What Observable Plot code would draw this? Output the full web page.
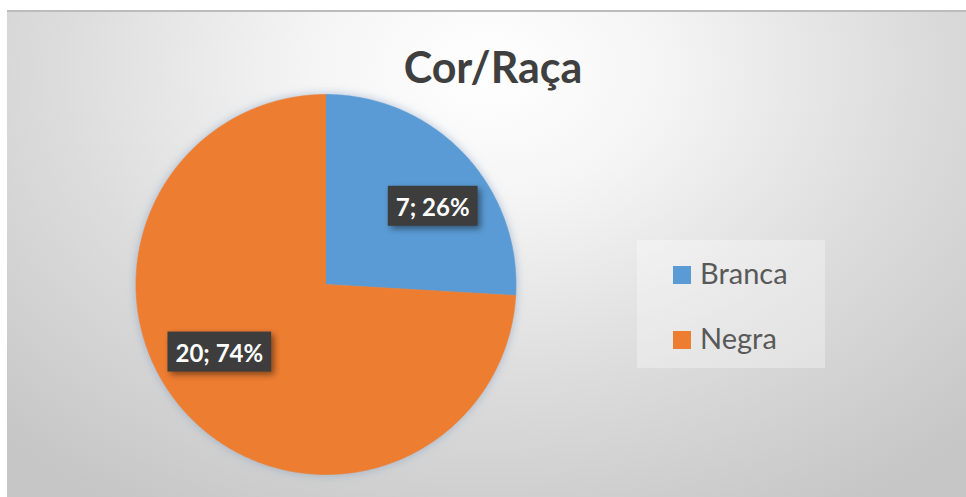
<!DOCTYPE html>
<html>
<head>
<meta charset="utf-8">
<script src="https://cdn.jsdelivr.net/npm/d3@7"></script>
<script src="https://cdn.jsdelivr.net/npm/@observablehq/plot@0.6"></script>
<style>
  html, body { margin: 0; padding: 0; background: #ffffff; overflow: hidden; }
  #chart {
    position: absolute; left: 7px; top: 10px; width: 959px; height: 487px; overflow: hidden;
    background: radial-gradient(ellipse 72% 105% at 50% 12%, #ffffff 0%, #f5f5f5 25%, #dcdcdc 62%, #c6c6c6 100%);
    border-top: 2px solid #bcbcbc;
    box-sizing: border-box;
  }
  #title {
    position: absolute; left: 0; width: 972px; top: 30px; text-align: center;
    font-family: Lato, sans-serif; font-weight: bold; font-size: 43px; line-height: 50px; color: #3f3f3f;
  }
  #legend {
    position: absolute; left: 630px; top: 228px; width: 188px; height: 128px;
    background: rgba(255,255,255,0.32);
  }
  .item { position: absolute; left: 36px; height: 30px; font-family: Lato, sans-serif; font-size: 29px; color: #595959; }
  .sw { position: absolute; left: 0; top: 4px; width: 18px; height: 18px; }
  .lb { position: absolute; left: 27px; top: -4px; line-height: 30px; white-space: nowrap; }
  #pie { position: absolute; left: 0; top: 0; }
</style>
</head>
<body>
<div id="chart">
  <div id="pie"></div>
  <div id="title"></div>
  <div id="legend"></div>
</div>
<script>
// ---- data ----
const title = "Cor/Raça";
const categories = ["Branca", "Negra"];
const counts = [7, 20];
const percents = [26, 74];
const colors = ["#5B9BD5", "#ED7D31"];

// ---- geometry from data ----
const arcs = d3.pie().sort(null).value(d => d)(counts);
const wedgeRows = [];
arcs.forEach((a, i) => {
  wedgeRows.push({cat: categories[i], x: 0, y: 0});
  const n = Math.max(2, Math.ceil((a.endAngle - a.startAngle) / 0.01));
  for (let k = 0; k <= n; k++) {
    const t = a.startAngle + (a.endAngle - a.startAngle) * k / n;
    wedgeRows.push({cat: categories[i], x: Math.sin(t), y: Math.cos(t)});
  }
});
const labelOffset = 9 * Math.PI / 180, labelR = 0.68;
const labelRows = arcs.map((a, i) => {
  const m = (a.startAngle + a.endAngle) / 2 + labelOffset;
  return {cat: categories[i], x: labelR * Math.sin(m), y: labelR * Math.cos(m),
          text: `${counts[i]}; ${percents[i]}%`};
});

const cx = 318.5, cy = 272, r = 190;
const plot = Plot.plot({
  width: 959, height: 487,
  margin: 0,
  style: {background: "transparent", overflow: "visible"},
  x: {domain: [-1, 1], range: [cx - r, cx + r], axis: null},
  y: {domain: [-1, 1], range: [cy + r, cy - r], axis: null},
  color: {domain: categories, range: colors},
  marks: [
    Plot.line(wedgeRows, {x: "x", y: "y", z: "cat", fill: "cat", stroke: "cat", strokeWidth: 0.6,
      curve: "linear"}),
    Plot.text(labelRows, {x: "x", y: "y", text: "text", fill: "white", fontWeight: "bold",
      fontSize: 24, fontFamily: "Lato, sans-serif", dy: -3, className: "plabel"})
  ]
});
document.getElementById("pie").appendChild(plot);

// pie soft glow
plot.querySelectorAll("path").forEach(p => {
  if (p.getAttribute("fill") && p.getAttribute("fill") !== "none") {
    p.parentNode.style.filter = "drop-shadow(0 0 5px rgba(120,150,190,0.55))";
  }
});

// dark boxes behind labels
const lg = plot.querySelector("g.plabel") || Array.from(plot.querySelectorAll("g")).find(g => g.querySelector("text"));
if (lg) {
  lg.querySelectorAll("text").forEach(t => {
    const b = t.getBBox();
    const tr = t.getAttribute("transform");
    const rect = document.createElementNS("http://www.w3.org/2000/svg", "rect");
    const padX = 8, h = 40;
    rect.setAttribute("x", b.x - padX);
    rect.setAttribute("width", b.width + 2 * padX);
    rect.setAttribute("y", b.y + b.height / 2 - h / 2 - 1);
    rect.setAttribute("height", h);
    rect.setAttribute("fill", "#3d3d3d");
    rect.style.filter = "drop-shadow(3px 3px 3px rgba(0,0,0,0.45))";
    if (tr) rect.setAttribute("transform", tr);
    t.parentNode.insertBefore(rect, t);
  });
}

// title
document.getElementById("title").textContent = title;

// legend
const color = plot.scale("color");
const legend = document.getElementById("legend");
categories.forEach((c, i) => {
  const it = document.createElement("div");
  it.className = "item";
  it.style.top = (22 + i * 65) + "px";
  const sw = document.createElement("div");
  sw.className = "sw";
  sw.style.background = color.apply(c);
  const lb = document.createElement("div");
  lb.className = "lb";
  lb.textContent = c;
  it.appendChild(sw); it.appendChild(lb);
  legend.appendChild(it);
});
</script>
</body>
</html>
